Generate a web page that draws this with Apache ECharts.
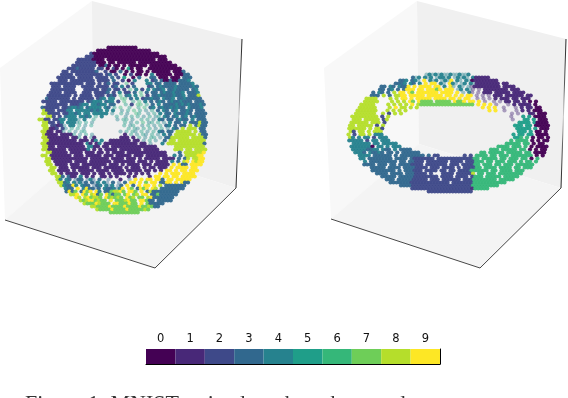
<!DOCTYPE html>
<html><head><meta charset="utf-8">
<style>html,body{margin:0;padding:0;background:#fff}#c{width:568px;height:398px}</style>
<script src="https://cdn.jsdelivr.net/npm/echarts@6/dist/echarts.min.js"></script>
</head><body><div id="c"></div>
<script>
const classLabels = ['0','1','2','3','4','5','6','7','8','9'];
const classColors = ['#440154','#482878','#3e4989','#31688e','#26828e','#1f9e89','#35b779','#6ece58','#b5de2b','#fde725'];
// Each char is the class seen in one cell; a-j = same class, washed out by depth;
// . = empty; _n_ = a run of n empty cells
const sphereRows = [
"0000000000",
"000000000000000000",
"20000000000000000000000",
"222000000000000000000000000",
"222220000.0000000000000000.000",
"2222222000.00.000000.00000000000",
"22222222.0030.00.0.000000.000000000",
"222322222.22.0.20.0.50.00..00000000000",
"22.222222223..2.00.3.0.0.00.0.000000.0003",
"2222.222222222.23.2..0.2.00.0.4.00000.00033",
"222222.22222.2222.3.2.5..0.3...33.000.000.333",
"222.22222222.2222.3..2.0.4...4.23.3003003334",
"22222222222.222.2.23.22..g.2....44.33.3333.33334",
"222.2222..2222.2222.23.4.2.3....23.34333343333343",
"22222222...22222.223.22.2.g.4.2.4.4334.3343333.34",
"2222.2222..222.22223.2.4.22.3.g.3.33.34334334.3334",
"22222222.2.2222.222.232.g.34.4.g.2.33433334334.3338",
"32222222.2.22222.234.44..gg.3.4.233433.4334.33433333",
"22222.22222222.23444.344.2.g..f.g.4.3.343.34334333.333",
"2222222.222344.44344.33...f.2.gg.f.3.4.33334343433343",
"322222.2234434.34444.43.f.g..f..f.g.34.343343433.43334",
"8222.22244.444443434.4.4..e.f.g.f.e.f.3.43.34.3343.333",
"882222.224434.44.44444.e..f.e..gf..e.f.4.33.433343.3333",
"882.2.3444.4434.f.4....f..e.f.f.e.f.ef.43.34.34.34333",
"8822.2244.444e.4..f.......e.ff.e..f.f.e.43.33.3433.4.333",
"8822.24.444ef.f.e..........f.e.f.g.ef.f.e.4.33.4.333833",
"88.2212e.44.f.e.f..........f.ef..e.f.e.f.34.3.33.8.3833",
"88112.2e.f.f.e..............f.fe.f.f.e.f.e.43.8.888.333",
"8811.11e.f.e.ff...........e.f.fe.f.e.f.43.33.88888.8.33",
"81111.1111f.e.f.e..........1.f.e.fe.f.e.4.3.8888888.833",
"881111111.11f.1.e1........111.1.f.e.ff.e.33888888.88883",
"88111111111.111.14.4..1111111.11.e.f.e..3.88.8888888883",
"88111111111111.41.14.11111111111.11.e...4.8888888888883",
"8811.111111111.4411.11.111111111111111......8888888888",
"88111111.1111114.1.1.1111.1111111.11111.....888.88.8888",
"8811111.1111.111.11.1.1111.1111111111111....3.8888889",
"88.1111111.111.11111.111.11111.111.1111111..4.3.888899",
"88111111111111.111111.1111.111.1.11111.1111.3.38.8899",
"88.111111.1111.1111111.1111111.111.1.1111.4.3.89.9899",
"88.1111.111.11111111.111.1.1111.111.11111.9.933.9999",
"88.111.111111.111.111111.1.111.1.11.111.9.9999.99",
"88.1111.1.11111.1111.1111.11111.11.1.1.99.9.99.999",
"88.1.1111.111.1.11.1.1111.1.1.1.1...9.9.999.9999",
"883.311.4.1.1..11.1.1...1.1....1.99.99.99.99999",
"84.43.d33.d4d.3..d...1..d.9.9.99.993.99.99999",
"8834.4d4d3.3d4.4d.3.d.3.99.9.7.99.3399.9.933",
"843394.433.d34.4d4.d3.9.3.9.99.9.8.3333333",
"433.9.4933d3.4334d49.97.3979.98.33333333",
"3937.3979.94.3378897.997.9.38333333333",
"889.97.8937.97377.79.78.99.337333333",
"98.897887.978787.978.77.893333333",
"878997877.9.7778977.99733.33333",
"877798777.99777977.9.733333",
"88777797777977779778733",
"877779777797777787",
"7777777777"
];
const torusRows = [
"e4e4e4ee4ee4ee4",
"3e4.4e4.e44e4.e4e4e.411111",
"334.34e.9.4e4.e4e9.4e.4e011111111",
"3334.43.4.9.99.4e.94e.e4.4e11111111.11",
"33.43.4339.9.9999.99.4.9e.4e.eb111111111.1111",
"33.34.3.3999.99.99979.999.e4.4eb.b.11111111.111",
"3.43.3.8.99.97.9999999.9999.9.e.4b.b.111.11111.1111",
"333.8.3.8899.99999.99999.99.9.9.99.b.b.b.111.111111.11",
"8888....8.8.99.9.99999.9999.99.9.99..b.b.b.1.111.11.111",
"88888....8.8.8.97.97777.77777.9779.99.9.b..b.b.11.11.1.0.0",
"88888....8.8.8.8.9.8777777777777777777.9.9.9.b...b.1.1111.0",
"888888....8.9.88.8.8_20_.9.9.9..b...b.1.11.00",
"8888888...8.8.8.8._26_9.9..b...b.1.1.000",
"8888888..8.2.8.8_32_....b.b...11.000",
"888888888.2.8._36_...b...5.5.0000",
"888.88888.28._40_b...55.5.0000",
"888888.888.2_42_..5555.50000",
"88.88888.2.8_43_555.55.00000",
"888888.8.882_44_55555.5.000",
"82.88.8.888._44_555.5.00.00",
"8.2.88.8.444_43_5.55.55.0000",
"84.4.44.2.444_42_556.6.0.00.0",
"44444.2.44.444_40_6.6666.0.0.00",
"444444.44.44444_36_66666.66.0.00.0",
"44444440.44.4.444_32_6666.666.6.0.0000",
"444443344.433.4.3333_26_666.66666.66.0.0.00",
"4443.43343.33.3.333333_20_66.66666.66666.66.0000",
"4444.333333.3.33333333.3.22_8_2.2.6666.66.666.6666666.0.0",
"44.33333333.3333.32222222.222222222222" + "66.66666.66.666.66.0.6",
"4.333333333.33.33222.2222222.2222.222666.66.666.666.6.66.6",
"3333.333.33.33332222.2222222.222.222266.666.66.666.666666",
"33333.3333.33332222.222.2222.2.222266.6666.6666.66.666",
"33333333.3.333222.2222.22.22.2222666666.66.6666.666",
"3333.3333.3332222.2...2222.222228.66.666.66666666",
"33333.3333322222222.2222.2222.2666.66666.66666",
"333.3333322222.222.222222.22266666666.66666",
"33333332222222222222.222222266666666666",
"333322222222222222222222666666666",
"22222222222222222222166666",
"222222222222222"
];
const sphereCols = 56, sphereLines = 56, torusCols = 67, torusLines = 40;
const rowShift = [0, 0.5, 0.25, 0.75];

function cellsFrom(rows, cols) {
  const out = [];
  rows.forEach((raw, r) => {
    const row = raw.replace(/_(\d+)_/g, (m, n) => '.'.repeat(+n));
    const start = Math.round((cols - row.length) / 2);
    [...row].forEach((ch, i) => {
      if (ch === '.') return;
      const code = ch.charCodeAt(0);
      const washed = code >= 97;
      const cls = washed ? code - 97 : code - 48;
      out.push([start + i + rowShift[r % 4], r, cls, washed ? 1 : 0]);
    });
  });
  return out;
}
function dots(rows, cols, idx) {
  return {
    type: 'scatter', xAxisIndex: idx, yAxisIndex: idx, symbolSize: 4.2, silent: true, animation: false,
    progressive: 0, z: 3,
    data: cellsFrom(rows, cols).map(d => ({ value: d, itemStyle: { color: classColors[d[2]], opacity: d[3] ? 0.42 : 0.95 } }))
  };
}
const hiddenAxis = (min, max, inverse, gridIndex) => ({
  type: 'value', min, max, inverse, gridIndex, show: false
});
function box(pts, fill) {
  return { type: 'polygon', z: 0, silent: true, shape: { points: pts }, style: { fill, stroke: null } };
}
function edge(a, b, stroke, w) {
  return { type: 'line', z: 1, silent: true, shape: { x1: a[0], y1: a[1], x2: b[0], y2: b[1] }, style: { stroke, lineWidth: w || 0.9 } };
}
function panel(o) {
  const grad = { type: 'linear', x: 0, y: 0, x2: 0, y2: 1, colorStops: [
    { offset: 0, color: '#222' }, { offset: 0.3, color: '#555' }, { offset: 0.52, color: '#ccc' },
    { offset: 0.72, color: '#555' }, { offset: 1, color: '#222' }] };
  return [
    box([o.top, o.lt, o.lb, o.c], '#f8f8f8'),
    box([o.top, o.rt, o.rb, o.c], '#f0f0f0'),
    box([o.c, o.lb, o.f, o.rb], '#f4f4f4'),
    edge(o.lb, o.f, '#333'),
    edge(o.f, o.rb, '#333'),
    edge(o.rt, o.rb, grad, 1)
  ];
}
const leftPanel = { top: [92, 1], lt: [0, 68], lb: [5, 220], f: [155, 268], rb: [236, 188], rt: [242, 39], c: [93, 143] };
const rightPanel = { top: [417, 1], lt: [324, 68], lb: [331, 219], f: [480, 268], rb: [561, 188], rt: [566, 39], c: [419, 144] };

const chart = echarts.init(document.getElementById('c'), null, { renderer: 'canvas' });
chart.setOption({
  animation: false,
  backgroundColor: '#fff',
  graphic: [
    ...panel(leftPanel), ...panel(rightPanel),
    { type: 'text', x: 25, y: 393, silent: true,
      style: { text: 'Figure 1: MNIST trained on the sphere and torus', fill: '#333', font: '22px "Liberation Serif"' } }
  ],
  grid: [
    { left: 38, top: 46, width: 168, height: 168 },
    { left: 347, top: 73, width: 201, height: 120 },
    { left: 146, top: 349, width: 294, height: 15 }
  ],
  xAxis: [
    hiddenAxis(-0.5, sphereCols - 0.5, false, 0),
    hiddenAxis(-0.5, torusCols - 0.5, false, 1),
    { type: 'category', gridIndex: 2, position: 'top', data: classLabels,
      axisLine: { show: true, lineStyle: { color: '#000', width: 1 } },
      axisTick: { show: true, alignWithLabel: true, length: 2, lineStyle: { color: '#000', width: 0.8 } },
      axisLabel: { color: '#111', fontFamily: 'DejaVu Sans', fontSize: 11.5, margin: 4 },
      splitLine: { show: false } }
  ],
  yAxis: [
    hiddenAxis(-0.5, sphereLines - 0.5, true, 0),
    hiddenAxis(-0.5, torusLines - 0.5, true, 1),
    { type: 'value', gridIndex: 2, min: 0, max: 1, position: 'right',
      axisLine: { show: true, lineStyle: { color: '#000', width: 1 } },
      axisTick: { show: false }, axisLabel: { show: false }, splitLine: { show: false } }
  ],
  series: [
    dots(sphereRows, sphereCols, 0),
    dots(torusRows, torusCols, 1),
    { type: 'bar', xAxisIndex: 2, yAxisIndex: 2, barWidth: '100%', silent: true, animation: false,
      data: classLabels.map((l, i) => ({ value: 1, itemStyle: { color: classColors[i] } })) }
  ]
});
</script></body></html>
